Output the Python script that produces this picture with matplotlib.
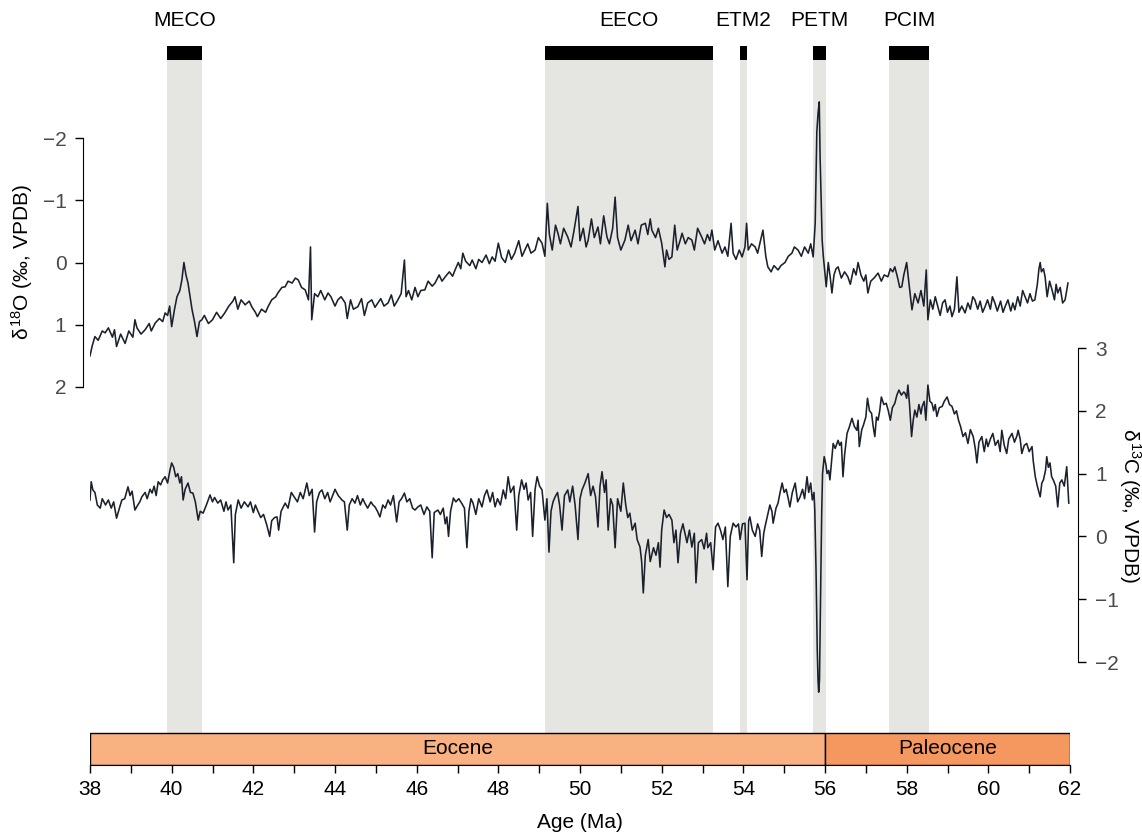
import matplotlib
matplotlib.use("Agg")
import matplotlib.pyplot as plt

plt.rcParams['font.family'] = ['Liberation Sans', 'DejaVu Sans']
plt.rcParams['mathtext.fontset'] = 'custom'
plt.rcParams['mathtext.rm'] = 'Liberation Sans'
plt.rcParams['mathtext.it'] = 'Liberation Sans'

# events (Ma)
events = ['MECO', 'EECO', 'ETM2', 'PETM', 'PCIM']
ev_start = [39.89, 49.14, 53.92, 55.71, 57.57]
ev_end = [40.74, 53.26, 54.09, 56.03, 58.55]

# epochs
epochs = ['Eocene', 'Paleocene']
ep_start = [38, 56]
ep_end = [56, 62]
ep_colors = ['#f9b182', '#f5985f']

# benthic d18O
d18o_age = [38.0, 38.05, 38.12, 38.2, 38.3, 38.37, 38.45, 38.55, 38.6, 38.65, 38.75, 38.86, 38.95, 39.05, 39.1, 39.15,
            39.25, 39.35, 39.45, 39.5, 39.6, 39.7, 39.78, 39.84, 39.9, 39.95, 40.0, 40.07, 40.13, 40.2, 40.25, 40.3,
            40.35, 40.4, 40.45, 40.5, 40.56, 40.62, 40.68, 40.74, 40.8, 40.9, 41.0, 41.1, 41.2, 41.3, 41.4, 41.5,
            41.55, 41.62, 41.7, 41.8, 41.9, 41.96, 42.05, 42.1, 42.2, 42.3, 42.36, 42.45, 42.55, 42.6, 42.7, 42.78,
            42.85, 42.95, 43.03, 43.1, 43.18, 43.27, 43.35, 43.4, 43.43, 43.5, 43.58, 43.65, 43.75, 43.83, 43.9, 44.0,
            44.07, 44.15, 44.25, 44.3, 44.38, 44.45, 44.56, 44.65, 44.72, 44.8, 44.9, 44.98, 45.05, 45.12, 45.2, 45.3,
            45.38, 45.45, 45.54, 45.62, 45.7, 45.74, 45.8, 45.88, 45.96, 46.03, 46.1, 46.2, 46.28, 46.38, 46.45, 46.55,
            46.62, 46.7, 46.8, 46.88, 46.94, 47.02, 47.08, 47.13, 47.2, 47.3, 47.36, 47.45, 47.52, 47.6, 47.7, 47.78,
            47.85, 47.92, 48.0, 48.08, 48.17, 48.25, 48.32, 48.4, 48.5, 48.58, 48.65, 48.72, 48.8, 48.9, 48.98, 49.07,
            49.14, 49.2, 49.25, 49.32, 49.4, 49.46, 49.52, 49.6, 49.7, 49.78, 49.85, 49.95, 50.0, 50.08, 50.15, 50.2,
            50.28, 50.35, 50.44, 50.5, 50.58, 50.66, 50.72, 50.8, 50.86, 50.92, 51.0, 51.1, 51.18, 51.25, 51.35, 51.42,
            51.5, 51.6, 51.66, 51.72, 51.76, 51.85, 51.92, 52.0, 52.08, 52.12, 52.18, 52.25, 52.32, 52.38, 52.45, 52.5,
            52.58, 52.65, 52.74, 52.8, 52.88, 52.98, 53.05, 53.12, 53.18, 53.23, 53.3, 53.38, 53.48, 53.55, 53.62, 53.7,
            53.75, 53.82, 53.9, 53.97, 54.04, 54.08, 54.12, 54.2, 54.29, 54.35, 54.42, 54.48, 54.55, 54.6, 54.68, 54.75,
            54.85, 54.92, 55.02, 55.1, 55.19, 55.25, 55.34, 55.42, 55.5, 55.59, 55.65, 55.71, 55.76, 55.8, 55.83, 55.86,
            55.88, 55.93, 55.96, 56.03, 56.08, 56.13, 56.17, 56.22, 56.27, 56.32, 56.4, 56.48, 56.56, 56.62, 56.7, 56.76,
            56.81, 56.88, 56.95, 57.0, 57.05, 57.12, 57.2, 57.3, 57.38, 57.45, 57.54, 57.6, 57.66, 57.71, 57.78, 57.83,
            57.88, 57.93, 58.0, 58.05, 58.13, 58.2, 58.28, 58.35, 58.42, 58.48, 58.52, 58.58, 58.64, 58.7, 58.76, 58.82,
            58.88, 58.94, 59.0, 59.06, 59.11, 59.17, 59.23, 59.28, 59.35, 59.43, 59.5, 59.56, 59.62, 59.67, 59.74, 59.8,
            59.86, 59.92, 59.98, 60.05, 60.1, 60.16, 60.22, 60.3, 60.36, 60.41, 60.48, 60.55, 60.6, 60.65, 60.72, 60.78,
            60.84, 60.9, 60.96, 61.02, 61.08, 61.14, 61.2, 61.24, 61.27, 61.3, 61.35, 61.39, 61.44, 61.5, 61.56, 61.62,
            61.66, 61.7, 61.76, 61.82, 61.88, 61.92, 61.95]
d18o = [1.50, 1.35, 1.19, 1.25, 1.10, 1.13, 1.05, 1.20, 1.08, 1.35, 1.15, 1.30, 1.10, 1.20, 0.92, 1.05,
        1.15, 1.08, 0.98, 1.10, 0.97, 0.90, 0.95, 0.81, 0.85, 0.70, 1.03, 0.75, 0.55, 0.45, 0.28, 0.00,
        0.20, 0.33, 0.55, 0.76, 0.95, 1.19, 0.95, 0.92, 0.85, 0.98, 0.92, 0.80, 0.90, 0.81, 0.70, 0.62,
        0.55, 0.75, 0.60, 0.68, 0.62, 0.71, 0.80, 0.87, 0.75, 0.80, 0.71, 0.60, 0.55, 0.49, 0.40, 0.39,
        0.30, 0.33, 0.25, 0.28, 0.40, 0.44, 0.60, -0.25, 0.92, 0.50, 0.55, 0.45, 0.60, 0.49, 0.55, 0.70,
        0.60, 0.55, 0.65, 0.90, 0.60, 0.75, 0.71, 0.58, 0.85, 0.65, 0.60, 0.72, 0.65, 0.58, 0.70, 0.65,
        0.52, 0.70, 0.60, 0.50, -0.04, 0.55, 0.45, 0.60, 0.40, 0.55, 0.45, 0.44, 0.30, 0.38, 0.33, 0.20,
        0.30, 0.23, 0.15, 0.22, 0.12, 0.00, 0.10, -0.15, -0.02, 0.05, -0.04, 0.10, -0.05, 0.00, -0.12, 0.02,
        -0.09, -0.02, -0.31, -0.08, 0.00, -0.20, -0.05, -0.15, -0.35, -0.10, -0.20, -0.30, -0.15, -0.20, -0.40, -0.31,
        -0.10, -0.95, -0.45, -0.20, -0.60, -0.47, -0.30, -0.55, -0.41, -0.25, -0.50, -0.90, -0.35, -0.55, -0.25, -0.36,
        -0.70, -0.40, -0.57, -0.30, -0.75, -0.41, -0.30, -0.55, -1.05, -0.40, -0.20, -0.36, -0.60, -0.35, -0.52, -0.30,
        -0.60, -0.63, -0.45, -0.70, -0.52, -0.40, -0.55, -0.31, 0.07, -0.20, -0.05, -0.09, -0.60, -0.20, -0.35, -0.47,
        -0.30, -0.40, -0.36, -0.20, -0.55, -0.41, -0.30, -0.45, -0.35, -0.52, -0.20, -0.35, -0.15, -0.25, -0.10, -0.63,
        -0.15, -0.05, -0.20, -0.09, -0.25, -0.63, -0.20, -0.30, -0.25, -0.15, -0.35, -0.52, -0.10, 0.07, 0.15, 0.05,
        0.12, 0.05, 0.00, -0.10, -0.15, -0.25, -0.20, -0.10, -0.25, -0.15, -0.30, -0.09, -0.63, -2.10, -2.40, -2.58,
        -1.70, -0.36, -0.09, 0.39, 0.00, 0.25, 0.49, 0.20, 0.10, 0.07, 0.25, 0.15, 0.23, 0.35, 0.10, 0.20,
        0.00, 0.20, 0.30, 0.20, 0.49, 0.30, 0.25, 0.17, 0.30, 0.20, 0.23, 0.10, 0.15, 0.07, 0.25, 0.40,
        0.39, 0.20, 0.00, 0.30, 0.76, 0.50, 0.65, 0.45, 0.70, 0.12, 0.92, 0.60, 0.75, 0.55, 0.70, 0.85,
        0.65, 0.60, 0.80, 0.70, 0.87, 0.75, 0.23, 0.80, 0.70, 0.81, 0.65, 0.75, 0.55, 0.60, 0.75, 0.62,
        0.80, 0.71, 0.60, 0.75, 0.55, 0.65, 0.78, 0.62, 0.80, 0.71, 0.60, 0.78, 0.65, 0.76, 0.55, 0.70,
        0.45, 0.55, 0.65, 0.50, 0.62, 0.60, 0.35, 0.10, 0.00, 0.15, 0.10, 0.23, 0.55, 0.30, 0.44, 0.60,
        0.35, 0.49, 0.40, 0.65, 0.60, 0.45, 0.33]

# benthic d13C
d13c_age = [38.0, 38.03, 38.07, 38.12, 38.18, 38.25, 38.3, 38.38, 38.45, 38.52, 38.58, 38.65, 38.72, 38.78, 38.85, 38.93,
            38.98, 39.03, 39.1, 39.17, 39.22, 39.27, 39.35, 39.4, 39.47, 39.52, 39.57, 39.62, 39.67, 39.73, 39.78, 39.84,
            39.9, 39.96, 40.0, 40.05, 40.1, 40.15, 40.2, 40.24, 40.28, 40.33, 40.4, 40.46, 40.52, 40.58, 40.65, 40.7,
            40.77, 40.85, 40.94, 41.0, 41.05, 41.13, 41.2, 41.28, 41.33, 41.38, 41.45, 41.52, 41.56, 41.63, 41.7, 41.78,
            41.87, 41.93, 42.0, 42.05, 42.1, 42.18, 42.25, 42.33, 42.4, 42.45, 42.52, 42.58, 42.62, 42.68, 42.78, 42.85,
            42.93, 43.02, 43.08, 43.15, 43.22, 43.31, 43.37, 43.44, 43.5, 43.55, 43.62, 43.68, 43.75, 43.82, 43.88, 43.93,
            44.0, 44.08, 44.17, 44.23, 44.3, 44.35, 44.42, 44.49, 44.55, 44.62, 44.68, 44.73, 44.8, 44.88, 44.93, 44.98,
            45.04, 45.1, 45.17, 45.23, 45.3, 45.36, 45.43, 45.51, 45.57, 45.63, 45.7, 45.76, 45.83, 45.9, 45.96, 46.03,
            46.1, 46.18, 46.25, 46.32, 46.38, 46.43, 46.52, 46.58, 46.65, 46.7, 46.74, 46.78, 46.83, 46.9, 46.96, 47.03,
            47.1, 47.17, 47.23, 47.28, 47.33, 47.38, 47.45, 47.52, 47.6, 47.66, 47.72, 47.8, 47.86, 47.92, 47.98, 48.05,
            48.12, 48.18, 48.24, 48.3, 48.38, 48.45, 48.5, 48.57, 48.63, 48.68, 48.73, 48.79, 48.84, 48.9, 48.95, 49.01,
            49.07, 49.14, 49.19, 49.24, 49.29, 49.34, 49.39, 49.45, 49.5, 49.56, 49.62, 49.7, 49.75, 49.82, 49.88, 49.95,
            50.0, 50.05, 50.12, 50.2, 50.26, 50.32, 50.38, 50.44, 50.49, 50.54, 50.6, 50.64, 50.69, 50.75, 50.8, 50.86,
            50.92, 51.0, 51.06, 51.12, 51.17, 51.22, 51.28, 51.35, 51.4, 51.47, 51.51, 51.55, 51.6, 51.67, 51.72, 51.8,
            51.86, 51.92, 51.96, 52.0, 52.06, 52.12, 52.18, 52.25, 52.3, 52.35, 52.4, 52.46, 52.52, 52.57, 52.62, 52.68,
            52.74, 52.8, 52.84, 52.9, 52.98, 53.04, 53.1, 53.13, 53.2, 53.26, 53.32, 53.38, 53.44, 53.5, 53.56, 53.62,
            53.68, 53.75, 53.82, 53.88, 53.92, 53.98, 54.04, 54.09, 54.13, 54.16, 54.22, 54.29, 54.35, 54.4, 54.45, 54.5,
            54.53, 54.6, 54.65, 54.7, 54.73, 54.8, 54.85, 54.9, 54.95, 55.0, 55.05, 55.1, 55.14, 55.2, 55.27, 55.33,
            55.39, 55.45, 55.5, 55.56, 55.6, 55.65, 55.69, 55.73, 55.75, 55.78, 55.81, 55.83, 55.845, 55.865, 55.88, 55.9,
            55.92, 55.94, 55.98, 56.02, 56.05, 56.09, 56.12, 56.16, 56.2, 56.25, 56.32, 56.36, 56.4, 56.44, 56.48, 56.54,
            56.6, 56.66, 56.72, 56.78, 56.81, 56.84, 56.9, 56.94, 57.0, 57.04, 57.09, 57.14, 57.18, 57.22, 57.26, 57.3,
            57.34, 57.38, 57.44, 57.5, 57.55, 57.6, 57.65, 57.71, 57.76, 57.81, 57.87, 57.93, 57.96, 58.0, 58.03, 58.07,
            58.12, 58.16, 58.2, 58.25, 58.3, 58.35, 58.38, 58.43, 58.47, 58.52, 58.57, 58.62, 58.66, 58.7, 58.74, 58.8,
            58.87, 58.92, 58.99, 59.05, 59.11, 59.17, 59.22, 59.27, 59.32, 59.38, 59.44, 59.5, 59.56, 59.63, 59.68, 59.72,
            59.77, 59.84, 59.9, 59.95, 59.99, 60.05, 60.11, 60.17, 60.24, 60.29, 60.33, 60.39, 60.45, 60.5, 60.58, 60.64,
            60.7, 60.73, 60.78, 60.82, 60.88, 60.94, 61.0, 61.07, 61.1, 61.15, 61.2, 61.27, 61.31, 61.35, 61.4, 61.43,
            61.47, 61.51, 61.55, 61.59, 61.65, 61.7, 61.75, 61.8, 61.86, 61.92, 61.97]
d13c = [0.58, 0.87, 0.74, 0.70, 0.50, 0.45, 0.60, 0.50, 0.58, 0.45, 0.55, 0.29, 0.45, 0.58, 0.60, 0.79,
        0.65, 0.72, 0.42, 0.50, 0.55, 0.63, 0.70, 0.60, 0.75, 0.69, 0.80, 0.65, 0.87, 0.82, 0.90, 0.95,
        0.85, 1.06, 1.17, 1.10, 0.95, 1.00, 0.85, 0.95, 0.58, 0.75, 0.85, 0.70, 0.69, 0.55, 0.26, 0.40,
        0.37, 0.50, 0.66, 0.55, 0.62, 0.53, 0.58, 0.40, 0.55, 0.42, 0.50, -0.42, 0.35, 0.58, 0.45, 0.55,
        0.47, 0.55, 0.38, 0.50, 0.42, 0.30, 0.35, 0.18, 0.00, 0.25, 0.30, 0.31, 0.10, 0.40, 0.53, 0.45,
        0.70, 0.61, 0.55, 0.70, 0.60, 0.85, 0.65, 0.75, 0.07, 0.55, 0.70, 0.74, 0.60, 0.70, 0.55, 0.63,
        0.75, 0.65, 0.58, 0.55, 0.10, 0.50, 0.60, 0.53, 0.65, 0.50, 0.60, 0.53, 0.45, 0.55, 0.50, 0.47,
        0.40, 0.31, 0.50, 0.45, 0.58, 0.50, 0.65, 0.23, 0.55, 0.60, 0.69, 0.55, 0.60, 0.45, 0.42, 0.47,
        0.50, 0.35, 0.47, 0.40, -0.34, 0.38, 0.42, 0.35, 0.45, 0.20, 0.31, 0.00, 0.40, 0.61, 0.55, 0.60,
        0.53, 0.45, -0.18, 0.40, 0.60, 0.53, 0.35, 0.60, 0.47, 0.65, 0.74, 0.55, 0.70, 0.47, 0.60, 0.50,
        0.74, 0.60, 0.95, 0.70, 0.80, 0.10, 0.65, 0.90, 0.75, 0.85, 0.58, 0.70, 0.00, 0.75, 0.95, 0.80,
        0.74, 0.26, 0.60, -0.25, 0.40, 0.55, 0.63, 0.70, 0.50, 0.10, 0.65, 0.74, 0.55, 0.80, 0.50, -0.05,
        0.60, 0.74, 0.85, 1.00, 0.65, 0.80, 0.63, 0.15, 0.80, 1.03, 0.70, 0.90, 0.10, 0.60, 0.50, -0.18,
        0.60, 0.40, 0.85, 0.50, 0.30, 0.37, 0.10, 0.21, -0.05, -0.17, -0.40, -0.90, -0.30, -0.05, -0.40, -0.18,
        -0.30, -0.10, -0.49, 0.10, 0.42, 0.30, 0.35, 0.26, -0.10, 0.10, -0.42, 0.05, 0.20, 0.05, -0.10, 0.10,
        -0.17, 0.05, -0.74, -0.10, -0.05, -0.20, 0.05, -0.18, -0.10, -0.53, 0.15, 0.21, 0.10, -0.05, 0.15, -0.80,
        0.00, 0.21, 0.15, 0.20, -0.05, 0.20, 0.21, -0.69, 0.25, 0.31, 0.10, 0.00, 0.20, 0.10, -0.32, 0.05,
        0.15, 0.35, 0.50, 0.40, 0.21, 0.45, 0.53, 0.70, 0.85, 0.70, 0.75, 0.60, 0.47, 0.70, 0.85, 0.55,
        0.63, 0.75, 0.60, 0.95, 0.70, 0.85, 0.58, 0.70, 0.42, -0.53, -1.80, -2.30, -2.48, -2.29, -1.50, -0.53,
        0.40, 1.00, 1.27, 1.15, 1.00, 1.05, 0.90, 1.20, 1.48, 1.40, 1.53, 1.45, 1.50, 0.95, 1.30, 1.64,
        1.75, 1.88, 1.75, 1.69, 1.85, 1.43, 1.70, 1.77, 1.90, 2.20, 2.00, 1.96, 1.75, 1.59, 1.90, 1.85,
        2.00, 2.22, 2.10, 2.12, 2.00, 1.85, 2.05, 2.12, 2.25, 2.33, 2.25, 2.30, 2.28, 2.20, 2.41, 2.10,
        1.59, 1.85, 2.01, 1.90, 2.10, 1.95, 2.07, 2.15, 1.85, 2.41, 2.15, 2.12, 2.00, 2.10, 1.91, 2.05,
        2.07, 2.15, 2.22, 2.10, 2.07, 1.95, 2.00, 1.85, 1.75, 1.59, 1.65, 1.48, 1.70, 1.59, 1.40, 1.17,
        1.50, 1.59, 1.35, 1.55, 1.43, 1.55, 1.64, 1.45, 1.53, 1.35, 1.69, 1.45, 1.32, 1.55, 1.64, 1.50,
        1.60, 1.69, 1.55, 1.32, 1.45, 1.48, 1.35, 1.43, 1.20, 0.95, 0.80, 0.63, 0.85, 0.90, 1.05, 1.27,
        1.10, 1.17, 0.95, 0.90, 0.80, 0.47, 0.85, 0.90, 0.80, 1.11, 0.53]

W, H = 1142, 836
fig = plt.figure(figsize=(W / 100, H / 100), dpi=100)

# background axis: event shading, bars, epoch timescale, age axis
x0, x1 = 90, 1070
ax = fig.add_axes([x0 / W, 1 - 765 / H, (x1 - x0) / W, (765 - 46) / H])
ax.set_xlim(38, 62)
ax.set_ylim(0, 1)
band_lo = 32 / 719
bar_lo = 705 / 719
for name, s, e in zip(events, ev_start, ev_end):
    ax.axvspan(s, e, band_lo, bar_lo, color='#e5e5e1', lw=0, zorder=0)
    ax.axvspan(s, e, bar_lo, 1.0, color='black', lw=0, zorder=1)
    ax.text((s + e) / 2, 1 + 26 / 719, name, ha='center', va='center', fontsize=15,
            transform=ax.get_xaxis_transform(), clip_on=False)
for name, s, e, c in zip(epochs, ep_start, ep_end, ep_colors):
    ax.axvspan(s, e, 0, band_lo, facecolor=c, edgecolor='black', lw=1.0, zorder=2)
    ax.text((s + e) / 2, band_lo / 2, name, ha='center', va='center', fontsize=15,
            transform=ax.get_xaxis_transform(), zorder=3)
for sp in ['top', 'left', 'right']:
    ax.spines[sp].set_visible(False)
ax.set_yticks([])
ax.set_xticks(range(38, 63, 2))
ax.set_xticks(range(38, 63, 1), minor=True)
ax.tick_params(axis='x', which='both', length=6, width=1, labelsize=15, pad=5)
ax.set_xlabel('Age (Ma)', fontsize=15, labelpad=10)
ax.patch.set_alpha(0)

# curve axes (shared pixel extent)
ytop, ybot = 90, 720
rect = [x0 / W, 1 - ybot / H, (x1 - x0) / W, (ybot - ytop) / H]
line_kw = dict(color='#1b212c', lw=1.15)

ax_o = fig.add_axes(rect)
ax_o.patch.set_alpha(0)
ax_o.set_xlim(38, 62)
ppu_o = (387 - 138) / 4
ax_o.set_ylim(2 + (ybot - 387) / ppu_o, -2 - (138 - ytop) / ppu_o)
ax_o.plot(d18o_age, d18o, **line_kw)
for sp in ['top', 'right', 'bottom']:
    ax_o.spines[sp].set_visible(False)
ax_o.spines['left'].set_bounds(-2, 2)
ax_o.spines['left'].set_position(('outward', 5))
ax_o.set_yticks([-2, -1, 0, 1, 2])
ax_o.set_yticklabels(['\u22122', '\u22121', '0', '1', '2'])
ax_o.set_xticks([])
ax_o.tick_params(axis='y', length=6, width=1, labelsize=15, labelcolor='#4a4a4a', pad=6)
fig.text(22 / W, 1 - 262 / H, r'$\delta^{18}$O (‰, VPDB)', rotation=90, ha='center', va='center', fontsize=15)

ax_c = fig.add_axes(rect)
ax_c.patch.set_alpha(0)
ax_c.set_xlim(38, 62)
ppu_c = (662 - 348) / 5
ax_c.set_ylim(-2 - (ybot - 662) / ppu_c, 3 + (348 - ytop) / ppu_c)
ax_c.plot(d13c_age, d13c, **line_kw)
for sp in ['top', 'left', 'bottom']:
    ax_c.spines[sp].set_visible(False)
ax_c.spines['right'].set_bounds(-2, 3)
ax_c.spines['right'].set_position(('outward', 6))
ax_c.yaxis.tick_right()
ax_c.set_yticks([-2, -1, 0, 1, 2, 3])
ax_c.set_yticklabels(['\u22122', '\u22121', '0', '1', '2', '3'])
ax_c.set_xticks([])
ax_c.tick_params(axis='y', length=6, width=1, labelsize=15, labelcolor='#4a4a4a', pad=6)
fig.text(1130 / W, 1 - 505 / H, r'$\delta^{13}$C (‰, VPDB)', rotation=-90, ha='center', va='center', fontsize=15)

fig.savefig('out.png', dpi=100)
